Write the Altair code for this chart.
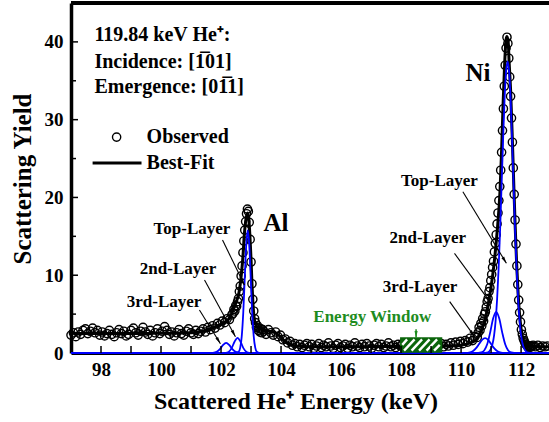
import math
import altair as alt
import pandas as pd

FONT = "Liberation Serif"
BLUE = "#0000ff"
GREEN_TXT = "#1e8c1e"
GREEN_BOX = "#0b650b"

W, H = 478, 350
X_DOM = [97.0, 112.93]
Y_DOM = [0.0, 45.0]
PX_E = W / (X_DOM[1] - X_DOM[0])
PX_Y = H / (Y_DOM[1] - Y_DOM[0])

# ---------------- observed spectrum (channel segments: start, step, yields) -------------
obs1_start, obs1_step = 97.00, 0.08
obs1 = [2.3, 2.6, 2.1, 2.7, 2.4, 2.9, 3.1, 2.5, 2.8, 3.2,
        2.6, 2.9, 2.3, 2.7, 2.2, 2.5, 2.9, 2.4, 2.1, 2.6,
        3.0, 2.5, 2.8, 2.2, 2.4, 2.9, 3.2, 2.6, 2.3, 2.8,
        3.3, 2.7, 2.4, 2.9, 2.2, 2.6, 3.1, 2.5, 2.8, 3.4,
        2.9, 2.4, 2.7, 2.2, 2.6, 3.0, 2.5, 2.3, 2.8, 3.1,
        2.6, 2.4, 2.9, 2.5, 2.8, 3.1, 2.7, 3.3, 3.0, 3.5,
        3.2, 3.8, 3.6, 4.1, 3.9, 4.4, 4.3, 4.9]
obs2_start, obs2_step = 102.40, 0.03
obs2 = [5.1, 5.6, 5.4, 6.1, 6.0, 6.6, 7.0, 7.9, 8.6, 9.9,
        11.2, 12.9, 14.4, 15.8, 16.9, 17.9, 18.5, 18.2, 16.8, 14.6,
        11.7, 8.9, 6.9, 5.4, 4.4, 3.9, 3.3, 3.5, 2.9, 3.2,
        2.7, 3.1, 2.6, 3.0]
obs3_start, obs3_step = 103.42, 0.08
obs3 = [2.8, 2.4, 3.0, 2.6, 2.3, 2.7, 2.1, 2.3, 1.7, 1.8,
        1.3, 1.5, 1.0, 1.2, 0.8, 1.1, 0.7, 1.0, 1.2, 0.8,
        1.1, 0.6, 0.9, 1.2, 0.7, 1.0, 0.8, 1.3, 0.9, 0.6,
        1.0, 1.2, 0.7, 0.9, 1.1, 0.6, 1.0, 0.8, 1.3, 0.9,
        0.7, 1.1, 0.8, 1.2, 0.9, 0.6, 1.0, 1.2, 0.8, 1.1,
        0.7, 0.9, 1.3, 0.8, 1.0, 0.7, 1.1, 0.9, 1.2, 0.7,
        1.0, 0.8, 1.1, 0.9, 0.6, 1.0, 1.2, 0.8, 1.1, 0.7,
        0.9, 1.3, 0.8, 1.0, 1.2, 0.8, 1.1, 0.9, 1.3, 1.0,
        1.4, 1.1, 1.5, 1.2, 1.6, 1.4, 1.9, 1.6, 2.1, 2.0]
obs4_start, obs4_step = 110.57, 0.03
obs4 = [2.6, 3.3, 2.9, 3.8, 3.5, 4.4, 4.1, 5.0, 5.3, 5.9,
        6.6, 7.0, 7.9, 8.4, 9.3, 10.1, 11.0, 11.8, 13.0, 14.1,
        15.2, 16.6, 18.0, 19.6, 21.4, 23.5, 25.8, 28.6, 31.4, 34.3,
        37.0, 39.2, 40.6, 39.8, 37.9, 35.5, 33.0, 30.2, 27.1, 23.8,
        20.4, 17.1, 14.0, 11.2, 8.8, 6.8, 5.2, 4.0, 3.0, 2.4,
        1.9, 1.6, 1.3, 1.1, 1.0, 0.8, 0.9, 0.7, 0.9, 0.8,
        0.9]
obs5_start, obs5_step = 112.40, 0.08
obs5 = [1.0, 0.8, 1.0, 0.7, 0.9, 0.8, 0.9]

# ---------------- best fit -------------
fit_e = [97.0, 97.5, 98.0, 98.5, 99.0, 99.5, 100.0, 100.5, 101.0, 101.4,
         101.7, 101.9, 102.1, 102.3, 102.4, 102.5, 102.6, 102.68, 102.73, 102.78,
         102.83, 102.89, 102.93, 102.97, 103.0, 103.03, 103.06, 103.09, 103.12, 103.17,
         103.22, 103.35, 103.6, 103.8, 103.95, 104.1, 104.25, 104.45, 104.7, 105.5,
         106.5, 107.5, 108.5, 109.5, 110.0, 110.3, 110.5, 110.6, 110.7, 110.8,
         110.9, 111.0, 111.1, 111.2, 111.3, 111.35, 111.4, 111.45, 111.5, 111.53,
         111.57, 111.6, 111.65, 111.7, 111.75, 111.8, 111.85, 111.9, 111.95, 112.0,
         112.1, 112.2, 112.4, 112.93]
fit_y = [2.55, 2.5, 2.5, 2.5, 2.5, 2.5, 2.55, 2.55, 2.6, 2.8,
         3.2, 3.5, 3.9, 4.6, 5.5, 6.5, 7.8, 10.2, 12.4, 15.4,
         17.2, 18.0, 17.0, 14.5, 12.0, 9.0, 6.6, 5.0, 4.1, 3.5,
         3.3, 3.0, 2.8, 2.6, 2.2, 1.6, 1.2, 0.95, 0.85, 0.8,
         0.8, 0.85, 0.85, 0.9, 1.0, 1.3, 1.7, 2.3, 3.2, 4.3,
         6.2, 8.5, 11.5, 15.5, 21.0, 26.0, 32.0, 37.0, 40.3, 40.7,
         40.0, 37.5, 33.8, 28.4, 22.4, 16.6, 11.6, 7.7, 4.9, 3.1,
         1.4, 0.95, 0.85, 0.8]

# ---------------- layer components (blue) -------------
al_top_e = [97.0, 102.49, 102.59, 102.64, 102.69, 102.74, 102.79, 102.84, 102.89,
            102.94, 102.99, 103.04, 103.09, 103.14, 103.19, 103.29, 112.93]
al_top_y = [0, 0, 0.18, 0.69, 2.14, 5.13, 9.58, 13.94, 15.8,
            13.94, 9.58, 5.13, 2.14, 0.69, 0.18, 0, 0]
al_2nd_e = [97.0, 102.05, 102.15, 102.25, 102.35, 102.45, 102.55, 102.65, 102.75,
            102.85, 102.95, 103.05, 112.93]
al_2nd_y = [0, 0, 0.02, 0.14, 0.6, 1.45, 1.95, 1.45, 0.6, 0.14, 0.02, 0, 0]
al_3rd_e = [97.0, 101.67, 101.77, 101.87, 101.97, 102.07, 102.17, 102.27, 102.37,
            102.47, 102.57, 102.67, 112.93]
al_3rd_y = [0, 0, 0.04, 0.18, 0.53, 1.04, 1.3, 1.04, 0.53, 0.18, 0.04, 0, 0]
ni_top_e = [97.0, 110.75, 110.85, 110.95, 111.05, 111.1, 111.15, 111.2, 111.25, 111.3,
            111.35, 111.4, 111.45, 111.5, 111.55, 111.6, 111.65, 111.7, 111.75, 111.8,
            111.85, 111.9, 111.95, 112.0, 112.05, 112.15, 112.25, 112.35, 112.93]
ni_top_y = [0, 0, 0.04, 0.26, 1.18, 2.27, 4.1, 6.9, 10.8, 15.8,
            21.6, 27.4, 32.7, 36.2, 37.5, 36.2, 32.7, 27.4, 21.6, 15.8,
            10.8, 6.9, 4.1, 2.27, 1.18, 0.26, 0.04, 0, 0]
ni_2nd_e = [97.0, 110.57, 110.67, 110.77, 110.87, 110.97, 111.07, 111.17, 111.27,
            111.37, 111.47, 111.57, 111.67, 111.77, 112.93]
ni_2nd_y = [0, 0, 0.07, 0.33, 1.12, 2.65, 4.46, 5.3, 4.46, 2.65, 1.12, 0.33, 0.07, 0, 0]
ni_3rd_e = [97.0, 110.1, 110.2, 110.3, 110.4, 110.5, 110.6, 110.7, 110.8, 110.9,
            111.0, 111.1, 111.2, 111.3, 111.4, 111.5, 112.93]
ni_3rd_y = [0, 0, 0.02, 0.08, 0.26, 0.62, 1.15, 1.68, 1.9, 1.68,
            1.15, 0.62, 0.26, 0.08, 0.02, 0, 0]

# ---------------- ticks -------------
x_label_vals = [98, 100, 102, 104, 106, 108, 110, 112]
x_tick_vals = [98, 99, 100, 101, 102, 103, 104, 105, 106, 107, 108, 109, 110, 111, 112]
y_label_vals = [0, 10, 20, 30, 40]
y_major_ticks = [10, 20, 30, 40]
y_minor_ticks = [5, 15, 25, 35]

# ---------------- annotations -------------
info_text = ["119.84 keV He\u207a:", "Incidence: [1\u030501]", "Emergence: [01\u03051]"]
info_e = [97.78, 97.78, 97.78]
info_y = [40.87, 37.44, 34.23]

layer_text = ["Top-Layer", "2nd-Layer", "3rd-Layer", "Top-Layer", "2nd-Layer", "3rd-Layer"]
layer_e = [101.03, 100.57, 100.10, 109.28, 108.89, 108.63]
layer_y = [15.94, 10.76, 6.60, 22.1, 14.8, 8.52]

elem_text = ["Al", "Ni"]
elem_e = [103.83, 110.56]
elem_y = [16.7, 35.95]

arrow_e1 = [102.05, 101.45, 101.28, 110.06, 109.78, 109.62]
arrow_y1 = [14.52, 9.38, 5.53, 20.73, 12.81, 6.60]
arrow_e2 = [102.78, 102.48, 101.98, 111.51, 111.00, 110.45]
arrow_y2 = [8.74, 2.10, 1.20, 11.53, 6.39, 2.10]

window_text = ["Energy Window"]
window_e = [107.04]
window_y = [4.67]
window_box_e = [108.0, 109.34]
window_box_y = [0.15, 1.9]
window_arrow = [108.5, 3.05, 108.5, 1.95]
stripe_e1 = [108.04, 108.10, 108.35, 108.60, 108.85, 109.10]
stripe_y1 = [1.05, 0.3, 0.3, 0.3, 0.3, 0.3]
stripe_e2 = [108.20, 108.45, 108.70, 108.95, 109.20, 109.29]
stripe_y2 = [1.75, 1.75, 1.75, 1.75, 1.75, 1.05]

legend_text = ["Observed", "Best-Fit"]
legend_text_e = [99.52, 99.52]
legend_text_y = [27.76, 24.42]
legend_circle = [98.52, 27.76]
legend_line = [97.72, 99.35, 24.42]

# ---------------- chart -------------
xs = alt.Scale(domain=X_DOM, nice=False, zero=False)
ys = alt.Scale(domain=Y_DOM, nice=False, zero=False)

x_axis = alt.Axis(values=x_label_vals, format="d", ticks=False, domainWidth=3,
                  domainColor="black", labelFont=FONT, labelFontSize=19,
                  labelFontWeight="bold", labelColor="black", labelPadding=7,
                  grid=False, title=None, labelFlush=False)
y_axis = alt.Axis(values=y_label_vals, format="d", ticks=False, domainWidth=3.5,
                  domainColor="black", labelFont=FONT, labelFontSize=19,
                  labelFontWeight="bold", labelColor="black", labelPadding=8,
                  grid=False, title=None, labelFlush=False)


def seg(start, step, vals):
    return [round(start + i * step, 3) for i in range(len(vals))]


obs_df = pd.DataFrame({
    "e": seg(obs1_start, obs1_step, obs1) + seg(obs2_start, obs2_step, obs2)
    + seg(obs3_start, obs3_step, obs3) + seg(obs4_start, obs4_step, obs4)
    + seg(obs5_start, obs5_step, obs5),
    "y": obs1 + obs2 + obs3 + obs4 + obs5,
})


def X(f):
    return alt.X(f, type="quantitative", scale=xs, axis=x_axis)


def Y(f):
    return alt.Y(f, type="quantitative", scale=ys, axis=y_axis)


CIRCLE_SIZE = 68
CIRCLE_STROKE = 1.4

observed = alt.Chart(obs_df).mark_point(
    shape="circle", filled=False, color="black", size=CIRCLE_SIZE,
    strokeWidth=CIRCLE_STROKE, opacity=1
).encode(x=X("e"), y=Y("y"))


def curve(e, y, color, width):
    df = pd.DataFrame({"e": e, "y": y})
    return alt.Chart(df).mark_line(color=color, strokeWidth=width,
                                   interpolate="monotone").encode(x=X("e"), y=Y("y"))


best = curve(fit_e, fit_y, "black", 3)
blues = [curve(a, b, BLUE, 1.8) for a, b in [
    (al_3rd_e, al_3rd_y), (al_2nd_e, al_2nd_y), (al_top_e, al_top_y),
    (ni_3rd_e, ni_3rd_y), (ni_2nd_e, ni_2nd_y), (ni_top_e, ni_top_y)]]

box = alt.Chart(pd.DataFrame({"e1": [window_box_e[0]], "e2": [window_box_e[1]],
                              "y1": [window_box_y[0]], "y2": [window_box_y[1]]})).mark_rect(
    fill=GREEN_BOX, stroke=GREEN_BOX, strokeWidth=2
).encode(x=X("e1"), x2="e2", y=Y("y1"), y2="y2")

stripes = alt.Chart(pd.DataFrame({"e1": stripe_e1, "y1": stripe_y1,
                                  "e2": stripe_e2, "y2": stripe_y2})).mark_rule(
    color="white", strokeWidth=2.4
).encode(x=X("e1"), y=Y("y1"), x2="e2", y2="y2")


def heads(e1, y1, e2, y2, color, size):
    ang = []
    for a, b, c, d in zip(e1, y1, e2, y2):
        dx = (c - a) * PX_E
        dy = -(d - b) * PX_Y
        ang.append(math.degrees(math.atan2(dx, -dy)) % 360)
    df = pd.DataFrame({"e": e2, "y": y2, "ang": ang})
    return alt.Chart(df).mark_point(
        shape="M0,0L0.5,2.2L-0.5,2.2Z", filled=True, color=color, size=size,
        opacity=1, strokeWidth=0
    ).encode(x=X("e"), y=Y("y"), angle=alt.Angle("ang:Q", scale=None))


arrow_lines = alt.Chart(pd.DataFrame({"e1": arrow_e1, "y1": arrow_y1,
                                      "e2": arrow_e2, "y2": arrow_y2})).mark_rule(
    color="black", strokeWidth=1.1
).encode(x=X("e1"), y=Y("y1"), x2="e2", y2="y2")
arrow_heads = heads(arrow_e1, arrow_y1, arrow_e2, arrow_y2, "black", 40)

w_line = alt.Chart(pd.DataFrame({"e1": [window_arrow[0]], "y1": [window_arrow[1]],
                                 "e2": [window_arrow[2]], "y2": [window_arrow[3]]})).mark_rule(
    color=GREEN_TXT, strokeWidth=1.5
).encode(x=X("e1"), y=Y("y1"), x2="e2", y2="y2")
w_head = heads([window_arrow[0]], [window_arrow[1]], [window_arrow[2]], [window_arrow[3]],
               GREEN_TXT, 40)


def texts(labels, e, y, size, align="center", color="black"):
    df = pd.DataFrame({"t": labels, "e": e, "y": y})
    return alt.Chart(df).mark_text(font=FONT, fontSize=size, fontWeight="bold",
                                   align=align, baseline="middle", color=color).encode(
        x=X("e"), y=Y("y"), text="t:N")


info = texts(info_text, info_e, info_y, 20, align="left")
layer_lbl = texts(layer_text, layer_e, layer_y, 17)
elem_lbl = texts(elem_text, elem_e, elem_y, 25)
window_lbl = texts(window_text, window_e, window_y, 17, color=GREEN_TXT)
legend_lbl = texts(legend_text, legend_text_e, legend_text_y, 20, align="left")

leg_circle = alt.Chart(pd.DataFrame({"e": [legend_circle[0]], "y": [legend_circle[1]]})).mark_point(
    shape="circle", filled=False, color="black", size=CIRCLE_SIZE,
    strokeWidth=CIRCLE_STROKE, opacity=1
).encode(x=X("e"), y=Y("y"))
leg_line = alt.Chart(pd.DataFrame({"e1": [legend_line[0]], "e2": [legend_line[1]],
                                   "y": [legend_line[2]]})).mark_rule(
    color="black", strokeWidth=3
).encode(x=X("e1"), x2="e2", y=Y("y"))

x_ticks = alt.Chart(pd.DataFrame({"e": x_tick_vals})).mark_rule(
    color="black", strokeWidth=1.5
).encode(x=X("e"), y=alt.value(H), y2=alt.value(H - 7))
y_ticks_major = alt.Chart(pd.DataFrame({"v": y_major_ticks})).mark_rule(
    color="black", strokeWidth=1.5
).encode(y=Y("v"), x=alt.value(0), x2=alt.value(7))
y_ticks_minor = alt.Chart(pd.DataFrame({"v": y_minor_ticks})).mark_rule(
    color="black", strokeWidth=1.5
).encode(y=Y("v"), x=alt.value(0), x2=alt.value(5))
top_border = alt.Chart(pd.DataFrame({"k": [0]})).mark_rule(
    color="black", strokeWidth=4
).encode(x=alt.value(0), x2=alt.value(W), y=alt.value(0))

x_title = alt.Chart(pd.DataFrame({"t": ["Scattered He\u207a Energy (keV)"]})).mark_text(
    font=FONT, fontSize=24, fontWeight="bold", align="center", baseline="middle", color="black"
).encode(text="t:N", x=alt.value(225), y=alt.value(399))
y_title = alt.Chart(pd.DataFrame({"t": ["Scattering Yield"]})).mark_text(
    font=FONT, fontSize=25, fontWeight="bold", align="center", baseline="middle",
    color="black", angle=270
).encode(text="t:N", x=alt.value(-48), y=alt.value(176))

chart = alt.layer(
    observed, best, *blues, box, stripes, w_line, w_head, arrow_lines, arrow_heads,
    info, layer_lbl, elem_lbl, window_lbl, legend_lbl, leg_circle, leg_line,
    x_ticks, y_ticks_major, y_ticks_minor, top_border, x_title, y_title
).properties(
    width=W, height=H,
    padding={"left": 71, "top": 3, "right": 0, "bottom": 69},
    autosize=alt.AutoSizeParams(type="none"),
).configure_view(stroke=None)

chart.save("out.html", embed_options={"renderer": "svg", "actions": False})
